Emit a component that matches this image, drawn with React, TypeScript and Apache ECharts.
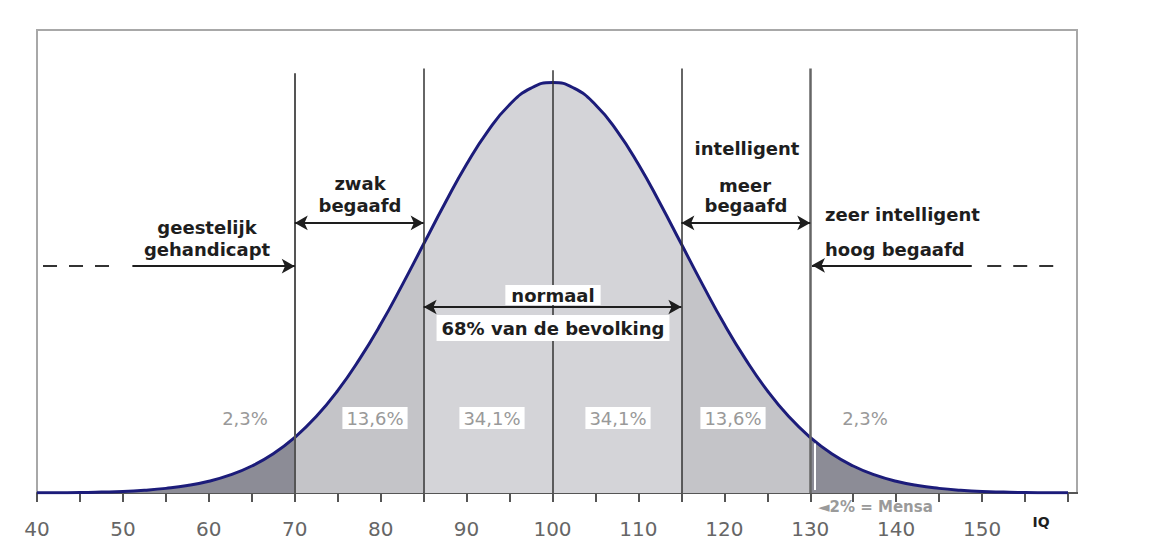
import React, { useEffect, useRef } from "react";
import * as echarts from "echarts";

// IQ values (x) and curve height (relative density, peak ≈ 26.6)
const iqPoints = [
  40, 42.5, 45, 47.5, 50, 52.5, 55, 57.5, 60, 62.5, 65, 67.5, 70, 72.5, 75, 77.5, 80, 82.5, 85, 87.5,
  90, 92.5, 95, 97.5, 100, 102.5, 105, 107.5, 110, 112.5, 115, 117.5, 120, 122.5, 125, 127.5, 130,
  132.5, 135, 137.5, 140, 142.5, 145, 147.5, 150, 152.5, 155, 157.5, 160,
];
const density = [
  0.01, 0.02, 0.03, 0.06, 0.1, 0.18, 0.3, 0.48, 0.76, 1.17, 1.75, 2.54, 3.6, 4.95, 6.63, 8.64, 10.93,
  13.47, 16.13, 18.79, 21.3, 23.47, 25.16, 26.23, 26.6, 26.23, 25.16, 23.47, 21.3, 18.79, 16.13, 13.47,
  10.93, 8.64, 6.63, 4.95, 3.6, 2.54, 1.75, 1.17, 0.76, 0.48, 0.3, 0.18, 0.1, 0.06, 0.03, 0.02, 0.01,
];

// shaded regions under the curve
const regionBounds = [
  [40, 70],
  [70, 85],
  [85, 115],
  [115, 130],
  [130, 160],
];
const regionColors = ["#8c8c96", "#c4c4c8", "#d4d4d8", "#c4c4c8", "#8c8c96"];

// vertical separator lines
const separators = [70, 85, 100, 115, 130];
const separatorTops = [27.2, 27.5, 27.4, 27.5, 27.5];

const percentLabels = ["2,3%", "13,6%", "34,1%", "34,1%", "13,6%", "2,3%"];

export default function App() {
  const ref = useRef<HTMLDivElement>(null);

  useEffect(() => {
    if (!ref.current) return;
    const chart = echarts.init(ref.current, undefined, { renderer: "svg" });
    const curve = iqPoints.map((x, i) => [x, density[i]]);

    const fills = regionBounds.map(([lo, hi], k) => ({
      type: "line",
      smooth: true,
      symbol: "none",
      silent: true,
      z: 1,
      lineStyle: { width: 0, opacity: 0 },
      areaStyle: { color: regionColors[k], opacity: 1 },
      data: curve.filter((p) => p[0] >= lo && p[0] <= hi),
    }));

    const sepColors = ["#555", "#333", "#333", "#333", "#666"];
    const sepWidths = [2, 1.5, 1.5, 1.5, 2.5];
    const vLines = separators.map((x, i) => [
      { coord: [x, 0], symbol: "none", lineStyle: { color: sepColors[i], width: sepWidths[i], type: "solid" } },
      { coord: [x, separatorTops[i]], symbol: "none" },
    ]);

    const arrowStyle = { color: "#1e1e1e", width: 2, type: "solid" };
    const dashStyle = { color: "#333", width: 2, type: [14, 12] };
    const arrows = [
      [{ coord: [70, 17.5], symbol: "arrow", lineStyle: arrowStyle }, { coord: [85, 17.5], symbol: "arrow" }],
      [{ coord: [115, 17.5], symbol: "arrow", lineStyle: arrowStyle }, { coord: [130, 17.5], symbol: "arrow" }],
      [{ coord: [85, 12.05], symbol: "arrow", lineStyle: arrowStyle }, { coord: [115, 12.05], symbol: "arrow" }],
      [{ coord: [51.1, 14.7], symbol: "none", lineStyle: arrowStyle }, { coord: [70, 14.7], symbol: "arrow" }],
      [{ coord: [148.8, 14.75], symbol: "none", lineStyle: arrowStyle }, { coord: [130.2, 14.75], symbol: "arrow" }],
      [{ coord: [40.7, 14.7], symbol: "none", lineStyle: dashStyle }, { coord: [49.4, 14.7], symbol: "none" }],
      [{ coord: [150.6, 14.75], symbol: "none", lineStyle: dashStyle }, { coord: [159.4, 14.75], symbol: "none" }],
      [
        { coord: [130.55, 0.2], symbol: "none", lineStyle: { color: "#ffffff", width: 2, type: "solid" } },
        { coord: [130.55, 3.2], symbol: "none" },
      ],
    ];

    const bold = (size: number) => `bold ${size}px "DejaVu Sans"`;
    const txt = (
      text: string,
      x: number,
      y: number,
      opts: { size?: number; color?: string; align?: string; bg?: string; pad?: number[]; weight?: string } = {}
    ) => ({
      type: "text",
      z: 100,
      x,
      y,
      style: {
        text,
        font: opts.weight === "normal" ? `${opts.size ?? 18}px "DejaVu Sans"` : bold(opts.size ?? 18),
        fill: opts.color ?? "#1e1e1e",
        textAlign: opts.align ?? "center",
        align: opts.align ?? "center",
        textVerticalAlign: "middle",
        verticalAlign: "middle",
        backgroundColor: opts.bg,
        padding: opts.pad,
      },
    });

    const percentX = [245, 375, 492, 618, 733, 865];

    chart.setOption({
      animation: false,
      grid: { left: 37, right: 105, top: 30, bottom: 54, containLabel: false },
      xAxis: {
        type: "value",
        min: 40,
        max: 160,
        interval: 5,
        axisLine: { lineStyle: { color: "#555", width: 2 } },
        axisTick: { length: 9, lineStyle: { color: "#555", width: 2 } },
        axisLabel: {
          formatter: (v: number) => (v % 10 === 0 && v < 160 ? String(v) : ""),
          color: "#666",
          fontSize: 20,
          fontFamily: "DejaVu Sans",
          margin: 26,
        },
        splitLine: { show: false },
      },
      yAxis: { type: "value", min: 0, max: 30, show: false },
      series: [
        ...fills,
        {
          type: "line",
          smooth: true,
          symbol: "none",
          silent: true,
          z: 3,
          lineStyle: { color: "#1c1c7a", width: 3 },
          data: curve,
          markLine: {
            silent: true,
            symbolSize: [11, 13],
            label: { show: false },
            data: [...vLines, ...arrows],
          },
        },
      ],
      graphic: [
        {
          type: "rect",
          z: 0,
          shape: { x: 37, y: 30, width: 1040, height: 463 },
          style: { fill: "none", stroke: "#a8a8a8", lineWidth: 2 },
        },
        {
          type: "line",
          z: 0,
          shape: { x1: 1068, y1: 493, x2: 1078, y2: 493 },
          style: { stroke: "#555", lineWidth: 2 },
        },
        txt("zwak", 360, 183),
        txt("begaafd", 360, 205),
        txt("geestelijk", 207, 227),
        txt("gehandicapt", 207, 249),
        txt("intelligent", 747, 148),
        txt("meer", 745, 185),
        txt("begaafd", 746, 205),
        txt("zeer intelligent", 825, 214, { align: "left" }),
        txt("hoog begaafd", 825, 249, { align: "left" }),
        txt("normaal", 553, 295, { bg: "#ffffff", pad: [1, 6] }),
        txt("68% van de bevolking", 553, 328, { bg: "#ffffff", pad: [4, 5] }),
        ...percentLabels.map((t, i) =>
          txt(t, percentX[i], 418, { size: 18, color: "#999", weight: "normal", bg: "#ffffff", pad: [2, 4] })
        ),
        txt("◄2% = Mensa", 818, 507, { size: 15, color: "#9a9a9a", align: "left" }),
        txt("IQ", 1041, 522, { size: 14 }),
      ],
    });
    return () => chart.dispose();
  }, []);

  return (
    <div
      ref={ref}
      style={{ position: "fixed", left: 0, top: 0, width: 1173, height: 547, background: "#ffffff" }}
    />
  );
}
